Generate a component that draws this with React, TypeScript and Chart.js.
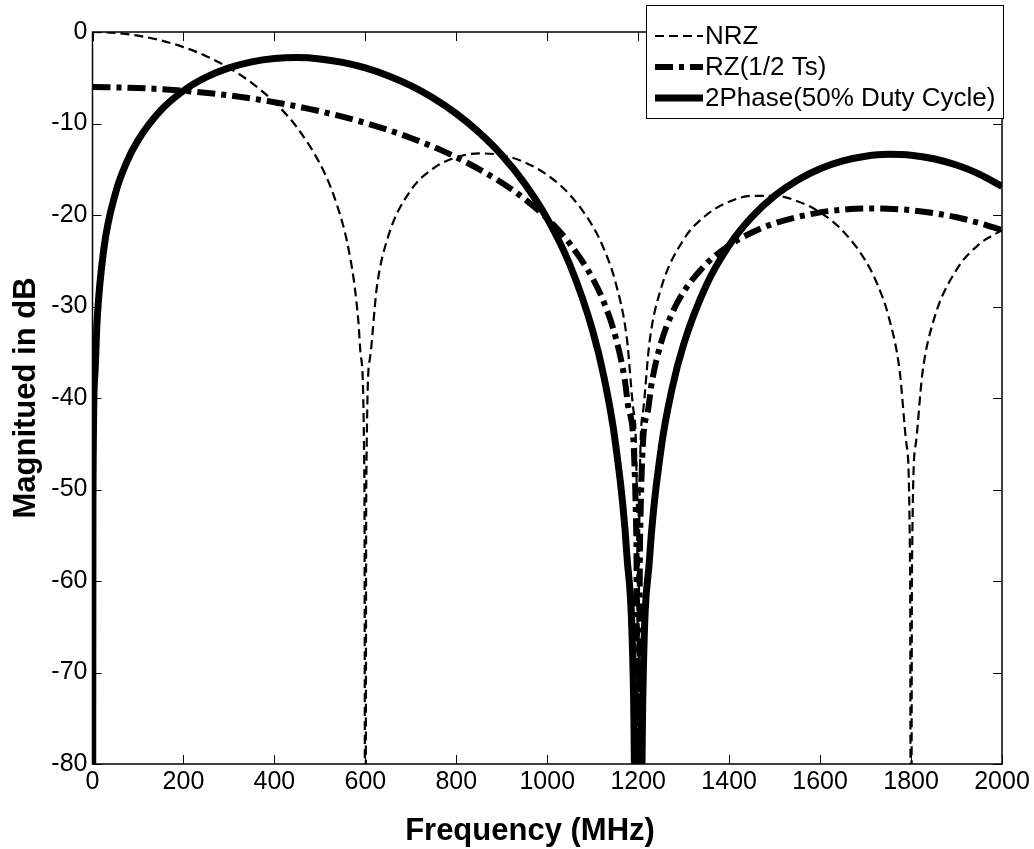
import React, { useEffect, useRef } from "react";
import { Chart, registerables } from "chart.js";

Chart.register(...registerables);

const seriesNames = ["NRZ", "RZ(1/2 Ts)", "2Phase(50% Duty Cycle)"];

const nrzFreq = [0, 50, 100, 150, 200, 250, 300, 350, 400, 450, 500, 525, 550, 560, 575, 585, 590, 598, 600, 602, 610, 625, 650, 700, 750, 800, 850, 900, 950, 1000, 1050, 1100, 1125, 1150, 1175, 1190, 1198, 1200, 1202, 1210, 1225, 1250, 1300, 1350, 1400, 1450, 1500, 1550, 1600, 1650, 1700, 1725, 1750, 1775, 1790, 1798, 1800, 1802, 1810, 1825, 1850, 1900, 1950, 2000];
const nrzDb = [0, -0.1, -0.4, -0.91, -1.65, -2.64, -3.92, -5.56, -7.67, -10.45, -14.38, -17.13, -20.93, -22.99, -27.26, -31.83, -35.42, -49.5, -120, -49.6, -35.7, -28.0, -22.38, -17.3, -14.89, -13.69, -13.27, -13.46, -14.23, -15.63, -17.81, -21.23, -23.75, -27.33, -33.47, -41.5, -55.5, -120, -55.6, -41.7, -33.83, -28.06, -22.68, -20.0, -18.55, -17.91, -17.9, -18.49, -19.71, -21.74, -25.01, -27.46, -30.98, -37.05, -45.06, -59.1, -120, -59.1, -45.16, -37.29, -31.46, -25.98, -23.19, -21.65];

const rzFreq = [0, 100, 200, 300, 400, 500, 600, 700, 800, 900, 950, 1000, 1050, 1100, 1125, 1150, 1170, 1180, 1196, 1200, 1204, 1220, 1230, 1250, 1275, 1300, 1350, 1400, 1450, 1500, 1600, 1650, 1700, 1750, 1800, 1850, 1900, 1950, 2000];
const rzDb = [-6.02, -6.12, -6.42, -6.93, -7.67, -8.66, -9.94, -11.58, -13.69, -16.47, -18.24, -20.4, -23.15, -26.95, -29.6, -33.28, -37.85, -41.44, -55.5, -120, -55.6, -41.7, -38.28, -34.01, -30.68, -28.4, -25.33, -23.32, -21.92, -20.91, -19.71, -19.42, -19.29, -19.31, -19.48, -19.8, -20.25, -20.87, -21.65];

const phaseFreq = [0, 1, 5, 10, 25, 50, 75, 100, 150, 200, 250, 300, 350, 400, 450, 500, 550, 600, 650, 700, 750, 800, 850, 900, 950, 1000, 1050, 1100, 1125, 1150, 1175, 1190, 1200, 1210, 1225, 1250, 1275, 1300, 1350, 1400, 1450, 1500, 1550, 1600, 1650, 1700, 1750, 1800, 1850, 1900, 1950, 2000];
const phaseDb = [-120, -51.6, -37.66, -31.64, -23.69, -17.71, -14.25, -11.84, -8.57, -6.42, -4.94, -3.92, -3.26, -2.9, -2.8, -2.94, -3.32, -3.92, -4.77, -5.86, -7.24, -8.92, -10.97, -13.46, -16.54, -20.4, -25.47, -32.67, -37.77, -44.94, -57.1, -73.2, -120, -73.3, -57.5, -45.67, -38.86, -34.12, -27.65, -23.32, -20.21, -17.9, -16.19, -14.94, -14.08, -13.57, -13.37, -13.46, -13.85, -14.54, -15.53, -16.88];

const xTickValues = [0, 200, 400, 600, 800, 1000, 1200, 1400, 1600, 1800, 2000];
const yTickValues = [0, -10, -20, -30, -40, -50, -60, -70, -80];

const xTitle = "Frequency (MHz)";
const yTitle = "Magnitued in dB";

const FONT = "'Liberation Sans', Arial, Helvetica, sans-serif";

const styles = [
  { width: 2.2, dash: [9, 5] },
  { width: 6, dash: [18, 6, 5, 6] },
  { width: 7, dash: [] as number[] },
];

const toPts = (xs: number[], ys: number[]) => xs.map((v, i) => ({ x: v, y: ys[i] }));

const framePlugin = {
  id: "frame",
  afterDraw(chart: any) {
    const { ctx, chartArea, scales } = chart;
    const { left, right, top, bottom } = chartArea;
    const xs = scales.x;
    const ys = scales.y;
    ctx.save();
    ctx.strokeStyle = "#000";
    ctx.lineWidth = 1;
    ctx.setLineDash([]);
    ctx.beginPath();
    xTickValues.forEach((v) => {
      const px = Math.round(xs.getPixelForValue(v)) + 0.5;
      ctx.moveTo(px, bottom);
      ctx.lineTo(px, bottom - 9);
      ctx.moveTo(px, top);
      ctx.lineTo(px, top + 9);
    });
    yTickValues.forEach((v) => {
      const py = Math.round(ys.getPixelForValue(v)) + 0.5;
      ctx.moveTo(left, py);
      ctx.lineTo(left + 9, py);
      ctx.moveTo(right, py);
      ctx.lineTo(right - 9, py);
    });
    ctx.stroke();
    ctx.lineWidth = 1.5;
    ctx.strokeRect(left, top, right - left, bottom - top);

    ctx.fillStyle = "#000";
    ctx.font = "bold 31px " + FONT;
    ctx.textAlign = "center";
    ctx.textBaseline = "alphabetic";
    ctx.fillText(xTitle, 530, 840);
    ctx.save();
    ctx.translate(35, (top + bottom) / 2);
    ctx.rotate(-Math.PI / 2);
    ctx.fillText(yTitle, 0, 0);
    ctx.restore();

    const lx = 646, ly = 5, lw = 357, lh = 113;
    ctx.fillStyle = "#fff";
    ctx.fillRect(lx, ly, lw, lh);
    ctx.strokeStyle = "#000";
    ctx.lineWidth = 1;
    ctx.strokeRect(lx + 0.5, ly + 0.5, lw, lh);
    ctx.font = "26px " + FONT;
    ctx.textAlign = "left";
    ctx.textBaseline = "middle";
    const rows = [31, 62, 93];
    seriesNames.forEach((name, i) => {
      const yy = ly + rows[i];
      ctx.save();
      ctx.lineWidth = styles[i].width;
      ctx.setLineDash(styles[i].dash);
      ctx.lineCap = "butt";
      ctx.beginPath();
      ctx.moveTo(655, yy);
      ctx.lineTo(703, yy);
      ctx.stroke();
      ctx.restore();
      ctx.fillStyle = "#000";
      ctx.fillText(name, 705, yy + 1);
    });
    ctx.restore();
  },
};

export default function App() {
  const ref = useRef<HTMLCanvasElement | null>(null);
  useEffect(() => {
    if (!ref.current) return;
    const mk = (i: number, xs: number[], ys: number[], order: number) => ({
      label: seriesNames[i],
      data: toPts(xs, ys),
      borderColor: "#000",
      borderWidth: styles[i].width,
      borderDash: styles[i].dash,
      pointRadius: 0,
      cubicInterpolationMode: "monotone",
      clip: 0,
      order,
    });
    const chart = new Chart(ref.current, {
      type: "line",
      data: {
        datasets: [
          mk(2, phaseFreq, phaseDb, 0),
          mk(1, rzFreq, rzDb, 1),
          mk(0, nrzFreq, nrzDb, 2),
        ],
      },
      options: {
        responsive: false,
        animation: false,
        devicePixelRatio: 1,
        layout: { padding: { top: 32, right: 32, left: 0, bottom: 0 } },
        plugins: { legend: { display: false }, tooltip: { enabled: false } },
        scales: {
          x: {
            type: "linear",
            min: 0,
            max: 2000,
            grid: { display: false, drawTicks: false },
            border: { display: false },
            afterFit: (s: any) => {
              s.height = 85;
            },
            afterBuildTicks: (s: any) => {
              s.ticks = xTickValues.map((v) => ({ value: v }));
            },
            ticks: {
              autoSkip: false,
              maxRotation: 0,
              padding: 3,
              color: "#000",
              font: { family: FONT, size: 25 },
              callback: (v: any) => String(v),
            },
          },
          y: {
            type: "linear",
            min: -80,
            max: 0,
            grid: { display: false, drawTicks: false },
            border: { display: false },
            afterFit: (s: any) => {
              s.width = 92.5;
            },
            afterBuildTicks: (s: any) => {
              s.ticks = yTickValues.slice().reverse().map((v) => ({ value: v }));
            },
            ticks: {
              autoSkip: false,
              padding: 5,
              color: "#000",
              font: { family: FONT, size: 25 },
              callback: (v: any) => String(v),
            },
          },
        },
      },
      plugins: [framePlugin],
    } as any);
    return () => chart.destroy();
  }, []);
  return (
    <div style={{ position: "absolute", left: 0, top: 0, width: 1034, height: 849, background: "#fff" }}>
      <canvas ref={ref} width={1034} height={849} style={{ display: "block" }} />
    </div>
  );
}
